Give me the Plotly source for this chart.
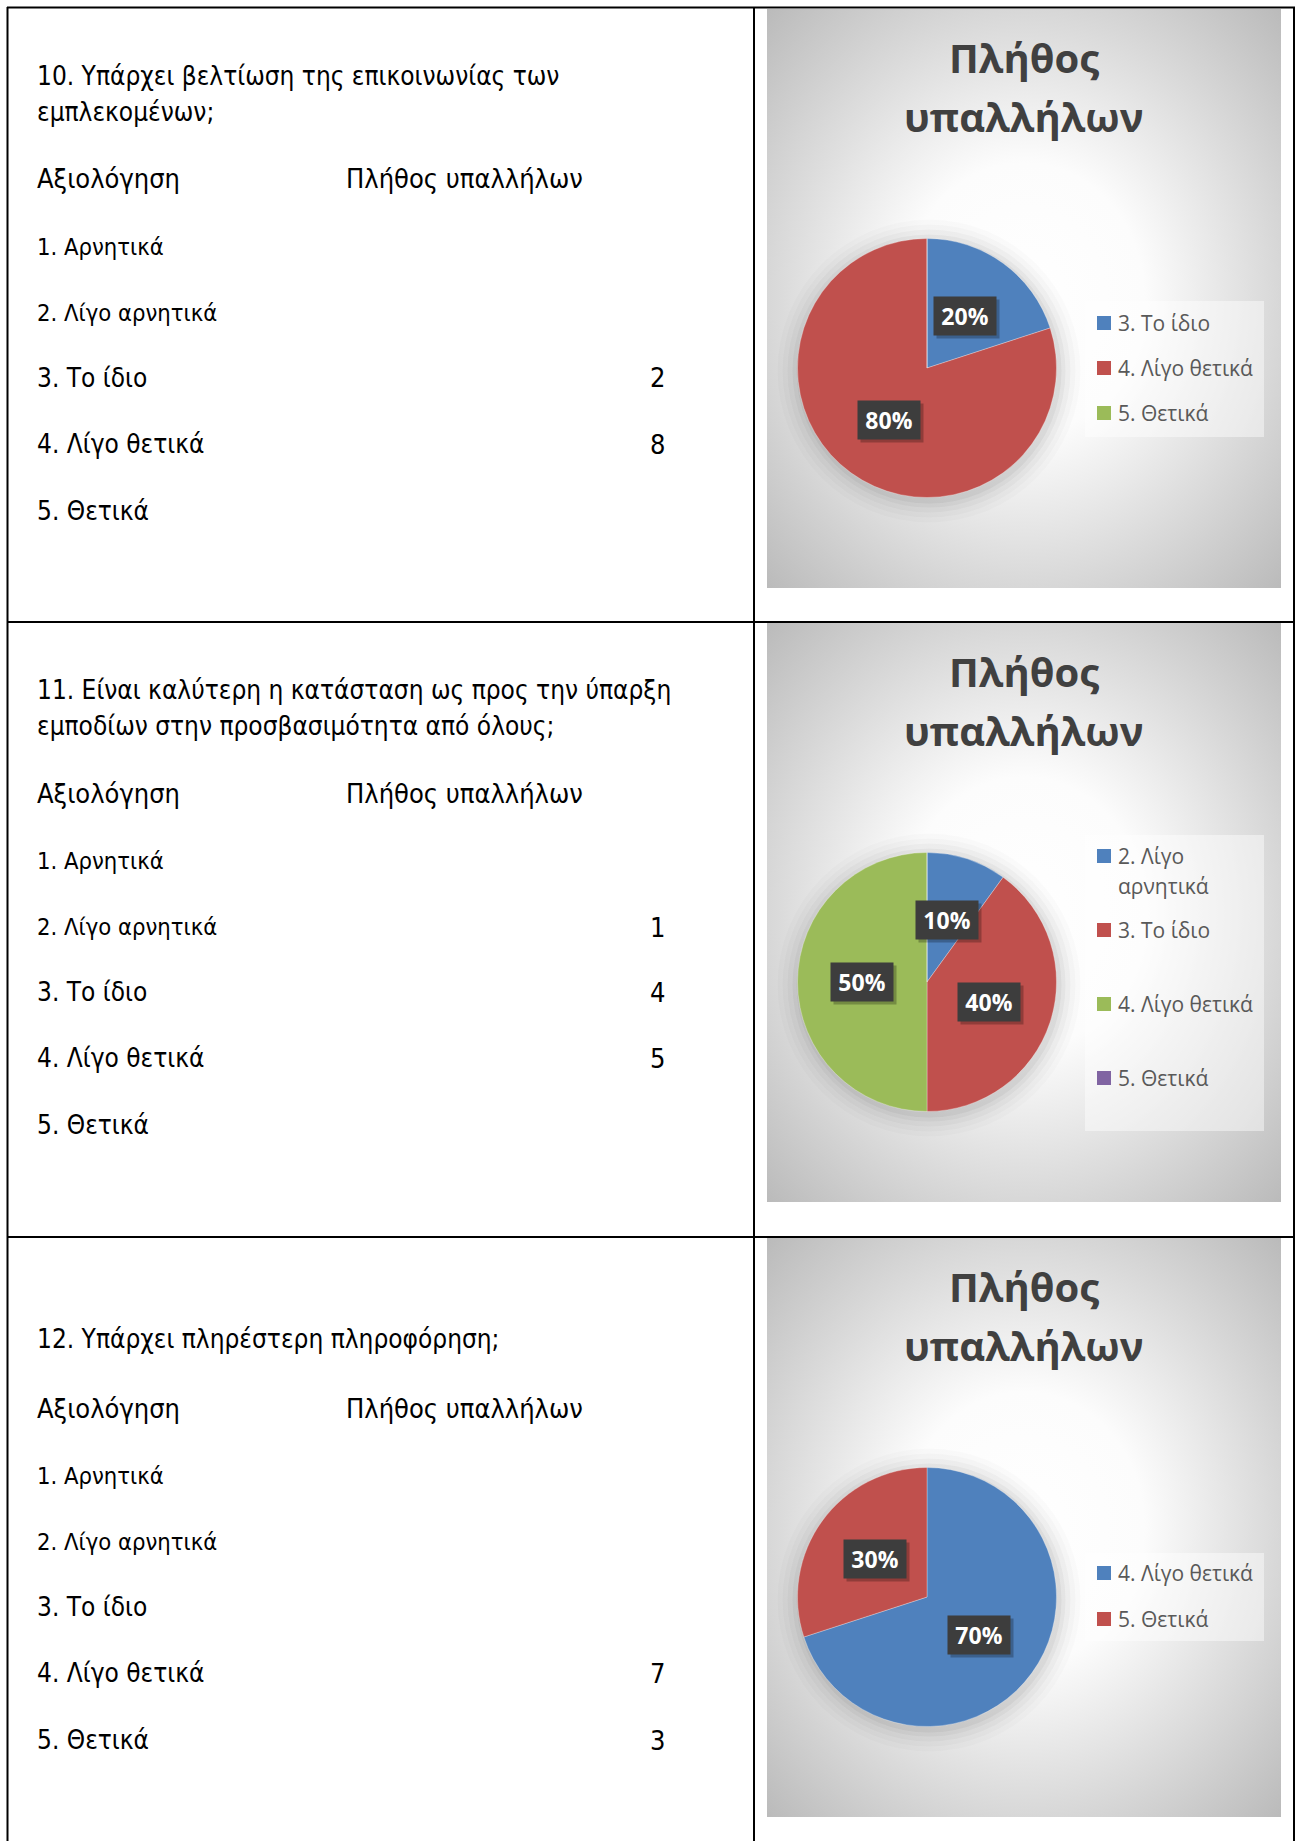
import base64
import numpy as np
import plotly.graph_objects as go

# ---------------- data ----------------
questions = [
    "10. Υπάρχει βελτίωση της επικοινωνίας των<br>εμπλεκομένων;",
    "11. Είναι καλύτερη η κατάσταση ως προς την ύπαρξη<br>εμποδίων στην προσβασιμότητα από όλους;",
    "12. Υπάρχει πληρέστερη πληροφόρηση;",
]
header_left = "Αξιολόγηση"
header_right = "Πλήθος υπαλλήλων"
ratings = ["1. Αρνητικά", "2. Λίγο αρνητικά", "3. Το ίδιο", "4. Λίγο θετικά", "5. Θετικά"]
counts_q10 = [None, None, 2, 8, None]
counts_q11 = [None, 1, 4, 5, None]
counts_q12 = [None, None, None, 7, 3]

chart_title = "Πλήθος υπαλλήλων"
pie1_labels = ["3. Το ίδιο", "4. Λίγο θετικά", "5. Θετικά"]
pie1_values = [2, 8, 0]
pie2_labels = ["2. Λίγο αρνητικά", "3. Το ίδιο", "4. Λίγο θετικά", "5. Θετικά"]
pie2_values = [1, 4, 5, 0]
pie3_labels = ["4. Λίγο θετικά", "5. Θετικά"]
pie3_values = [7, 3]

excel_colors = ["#4F81BD", "#C0504D", "#9BBB59", "#8064A2"]

# ---------------- layout geometry (pixels) ----------------
W, H = 1299, 1841
def px(x):
    return x / W
def py(y):
    return 1 - y / H

block_tops = [8, 622, 1237]
chart_tops = [9, 623, 1238]
CH_X0, CH_X1, CH_H = 767, 1281, 579
PIE_CX, PIE_CY_REL, PIE_R = 927, 359, 129.5
LEG_X0, LEG_X1 = 1085, 1264
leg_boxes = [(292, 428), (212, 508), (315, 403)]
leg_first = [314, 233, 335]
leg_pitch = [45, 74, 46]

TXT_FONT = "Liberation Sans Narrow, DejaVu Sans Condensed, Arial Narrow, sans-serif"
CH_FONT = "Open Sans, Noto Sans, sans-serif"

fig = go.Figure()
annotations = []
shapes = []
images = []

# background gradient svg
svg = ("<svg xmlns='http://www.w3.org/2000/svg' width='514' height='579' viewBox='0 0 514 579' "
       "preserveAspectRatio='none'><defs><radialGradient id='g' cx='50%' cy='50%' r='71%'>"
       "<stop offset='0' stop-color='#ffffff'/><stop offset='0.33' stop-color='#fcfcfc'/>"
       "<stop offset='1' stop-color='#bababa'/></radialGradient></defs>"
       "<rect width='514' height='579' fill='url(#g)'/></svg>")
svg_uri = "data:image/svg+xml;base64," + base64.b64encode(svg.encode()).decode()

pies = [(pie1_labels, pie1_values), (pie2_labels, pie2_values), (pie3_labels, pie3_values)]
tables = [counts_q10, counts_q11, counts_q12]

def wrap(label, limit=14):
    if len(label) <= limit:
        return [label]
    i = label.rfind(" ", 0, limit)
    return [label[:i], label[i + 1:]]

def txt(x, y, text, size, anchor="left", family=TXT_FONT, color="black", **kw):
    return dict(x=px(x), y=py(y), xref="paper", yref="paper", text=text, showarrow=False,
                xanchor=anchor, yanchor="middle",
                font=dict(family=family, size=size, color=color, **kw))

for k in range(3):
    bt = block_tops[k]
    # ---- left text ----
    q_lines = questions[k].split("<br>")
    q_y = [bt + 68, bt + 104] if len(q_lines) == 2 else [bt + 102]
    for t, yy in zip(q_lines, q_y):
        annotations.append(txt(35, yy, t, 26))
    hy = bt + 171
    annotations.append(txt(35, hy, header_left, 27))
    annotations.append(txt(344, hy, header_right, 27))
    row_rel = [239, 305, 370, 436, 503]
    for i, (r, c) in enumerate(zip(ratings, tables[k])):
        fs = 23.6 if i < 2 else 26
        annotations.append(txt(35, bt + row_rel[i], r, fs))
        if c is not None:
            annotations.append(txt(657, bt + row_rel[i], str(c), 27, anchor="center"))

    # ---- chart area ----
    ct = chart_tops[k]
    images.append(dict(source=svg_uri, xref="paper", yref="paper", x=px(CH_X0), y=py(ct),
                       sizex=(CH_X1 - CH_X0) / W, sizey=CH_H / H, sizing="stretch",
                       xanchor="left", yanchor="top", layer="below"))
    # title (wrapped on two lines)
    for li, (part, yrel) in enumerate(zip(chart_title.split(" "), [48, 107])):
        annotations.append(txt(1024, ct + yrel, part, 40, anchor="center", family=CH_FONT,
                               color="#404040", weight="bold"))
    labels, values = pies[k]
    cy = ct + PIE_CY_REL
    # soft shadow behind pie
    for grow, op in [(22, 0.015), (17, 0.02), (12, 0.028), (7, 0.035), (3, 0.045)]:
        shapes.append(dict(type="circle", xref="paper", yref="paper", layer="below",
                           x0=px(PIE_CX - PIE_R - grow + 2), x1=px(PIE_CX + PIE_R + grow + 2),
                           y0=py(cy + PIE_R + grow + 3), y1=py(cy - PIE_R - grow + 3),
                           fillcolor=f"rgba(0,0,0,{op})", line=dict(width=0)))
    fig.add_trace(go.Pie(labels=labels, values=values, sort=False, direction="clockwise",
                         rotation=0, textinfo="none", hoverinfo="label+value+percent",
                         marker=dict(colors=excel_colors[:len(labels)],
                                     line=dict(color="white", width=0.3)),
                         domain=dict(x=[px(PIE_CX - PIE_R), px(PIE_CX + PIE_R)],
                                     y=[py(cy + PIE_R), py(cy - PIE_R)]),
                         showlegend=False))
    # data labels (dark boxes) at half radius along slice bisector
    vals = np.array(values, dtype=float)
    tot = vals.sum()
    cum = np.concatenate([[0], np.cumsum(vals)])
    for i, v in enumerate(vals):
        if v <= 0:
            continue
        mid = (cum[i] + v / 2) / tot * 2 * np.pi
        lx = PIE_CX + 0.5 * PIE_R * np.sin(mid)
        ly = cy - 0.5 * PIE_R * np.cos(mid)
        label_txt = f"{round(100 * v / tot)}%"
        annotations.append(dict(x=px(lx), y=py(ly), xref="paper", yref="paper", text="",
                                showarrow=False, width=62, height=38, bgcolor="rgba(0,0,0,0.25)",
                                xanchor="center", yanchor="middle",
                                xshift=3, yshift=-3, borderpad=0))
        annotations.append(dict(x=px(lx), y=py(ly), xref="paper", yref="paper", text=label_txt,
                                showarrow=False, width=62, height=38, bgcolor="#3d3d3d",
                                xanchor="center", yanchor="middle",
                                borderpad=0, align="center", valign="middle",
                                font=dict(family=CH_FONT, size=23, color="white", weight="bold")))
    # legend
    b0, b1 = leg_boxes[k]
    shapes.append(dict(type="rect", xref="paper", yref="paper", layer="below",
                       x0=px(LEG_X0), x1=px(LEG_X1), y0=py(ct + b1), y1=py(ct + b0),
                       fillcolor="rgba(255,255,255,0.45)", line=dict(width=0)))
    for i, lab in enumerate(labels):
        yy = ct + leg_first[k] + i * leg_pitch[k]
        shapes.append(dict(type="rect", xref="paper", yref="paper",
                           x0=px(1097), x1=px(1111), y0=py(yy + 7), y1=py(yy - 7),
                           fillcolor=excel_colors[i], line=dict(width=0)))
        for li, part in enumerate(wrap(lab)):
            annotations.append(txt(1115.5, yy + li * 30, part, 21, family=CH_FONT, color="#595959"))

# ---------------- table lines ----------------
line_kw = dict(xref="paper", yref="paper", type="line", line=dict(color="black", width=2))
shapes.append(dict(x0=px(7), x1=px(1295), y0=py(7.5), y1=py(7.5), **line_kw))
shapes.append(dict(x0=px(7.5), x1=px(7.5), y0=py(7), y1=py(H + 5), **line_kw))
shapes.append(dict(x0=px(1294), x1=px(1294), y0=py(7), y1=py(H + 5), **line_kw))
shapes.append(dict(x0=px(754), x1=px(754), y0=py(7), y1=py(H + 5), **line_kw))
for yy in [622, 1237]:
    shapes.append(dict(x0=px(7), x1=px(1295), y0=py(yy), y1=py(yy), **line_kw))

fig.update_layout(width=W, height=H, margin=dict(l=0, r=0, t=0, b=0),
                  paper_bgcolor="white", plot_bgcolor="white",
                  annotations=annotations, shapes=shapes, images=images,
                  showlegend=False)

fig.write_html("out.html", config={"displayModeBar": False},
               post_script="document.body.style.margin='0';document.body.style.overflow='hidden';")
